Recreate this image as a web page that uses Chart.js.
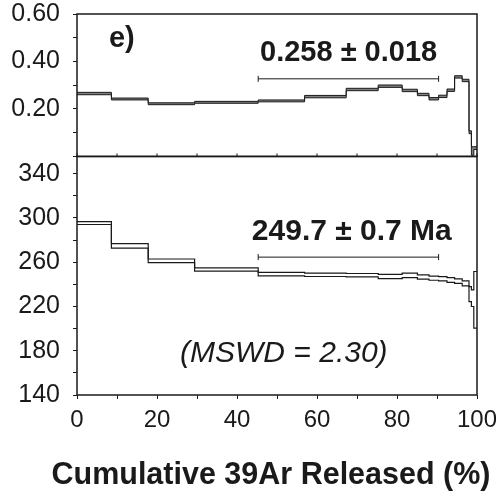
<!DOCTYPE html>
<html>
<head>
<meta charset="utf-8">
<title>Cumulative 39Ar Released</title>
<script src="https://cdn.jsdelivr.net/npm/chart.js@4.4.1/dist/chart.umd.min.js"></script>
<style>
  html, body { margin: 0; padding: 0; background: #fff; }
  #wrap { width: 496px; height: 501px; }
</style>
</head>
<body>
<div id="wrap"><canvas id="spectrum"></canvas></div>
<script>
// step boundaries, cumulative 39Ar released (%)
const stepEdges = [0, 8.6, 17.8, 29.4, 45.3, 56.9, 67.3, 75.3, 81.3, 85.1, 88.0, 90.4, 92.5, 94.4, 96.3, 98.0, 98.6, 99.2, 100];

// upper panel ratio for each step and its error half-width
const ratioValues = [0.265, 0.242, 0.222, 0.228, 0.234, 0.252, 0.282, 0.296, 0.278, 0.261, 0.243, 0.253, 0.279, 0.335, 0.320, 0.102, 0.023, 0.035];
const ratioErrors = [0.005, 0.004, 0.004, 0.004, 0.004, 0.005, 0.005, 0.005, 0.005, 0.005, 0.005, 0.005, 0.005, 0.005, 0.005, 0.006, 0.018, 0.006];

// lower panel apparent age (Ma) for each step and its error half-width
const ageValues = [295.4, 274.8, 261.3, 253.4, 249.3, 248.6, 248.3, 247.1, 248.1, 246.7, 245.6, 245.0, 243.9, 242.9, 240.9, 231.2, 227.5, 226.0];
const ageErrors = [1.3, 2.0, 1.6, 1.5, 1.6, 1.5, 1.5, 1.9, 2.0, 1.9, 1.9, 1.9, 2.2, 2.1, 2.2, 6.8, 7.5, 25.6];

// plateau bars
const plateauRange = [45.3, 90.4];
const ratioPlateauLevel = 0.327;
const agePlateauLevel = 264.6;

// tick labels
const xTickLabels = [0, 20, 40, 60, 80, 100];
const ratioTickLabels = [0.2, 0.4, 0.6];
const ageTickLabels = [140, 180, 220, 260, 300, 340];

const FONT = "'Liberation Sans', Arial, sans-serif";
const INK = '#1a1a1a';

function stepPoints(values, errors, sign) {
    const pts = values.map((v, i) => ({ x: stepEdges[i], y: v + sign * errors[i] }));
    const last = values.length - 1;
    pts.push({ x: stepEdges[last + 1], y: values[last] + sign * errors[last] });
    return pts;
}

function near(list, v) {
    return list.some(t => Math.abs(t - v) < 1e-6);
}

const panelFrame = {
    id: 'panelFrame',
    afterDraw(chart) {
        const ctx = chart.ctx;
        const { left, right } = chart.chartArea;
        const top = chart.scales.yTop;
        const bot = chart.scales.yBot;
        const x = chart.scales.x;
        ctx.save();
        ctx.strokeStyle = INK;
        ctx.lineWidth = 1.5;
        ctx.strokeRect(left, top.top, right - left, top.bottom - top.top);
        ctx.strokeRect(left, bot.top, right - left, bot.bottom - bot.top);
        // little ticks on the divider
        ctx.lineWidth = 1;
        for (let v = 0; v <= 100; v += 10) {
            const px = x.getPixelForValue(v);
            ctx.beginPath();
            ctx.moveTo(px, top.bottom);
            ctx.lineTo(px, top.bottom - 3);
            ctx.stroke();
        }
        // axis title
        ctx.fillStyle = INK;
        ctx.textAlign = 'center';
        ctx.textBaseline = 'middle';
        ctx.font = 'bold 30.5px ' + FONT;
        ctx.fillText('Cumulative 39Ar Released (%)', 271, 476);
        ctx.restore();
    }
};

const panelText = {
    id: 'panelText',
    afterDatasetsDraw(chart) {
        const ctx = chart.ctx;
        const x = chart.scales.x;
        const top = chart.scales.yTop;
        const bot = chart.scales.yBot;
        ctx.save();
        ctx.fillStyle = INK;
        ctx.textAlign = 'center';
        ctx.textBaseline = 'middle';
        ctx.font = 'bold 29px ' + FONT;
        ctx.fillText('e)', x.getPixelForValue(11.2), top.getPixelForValue(0.496));
        ctx.fillText('0.258 ± 0.018', x.getPixelForValue(67.9), top.getPixelForValue(0.437));
        ctx.font = 'bold 30px ' + FONT;
        ctx.fillText('249.7 ± 0.7 Ma', x.getPixelForValue(68.7), bot.getPixelForValue(287.5));
        ctx.font = 'italic 30px ' + FONT;
        ctx.fillText('(MSWD = 2.30)', x.getPixelForValue(51.7), bot.getPixelForValue(177));
        ctx.restore();
    }
};

const lineBase = {
    stepped: 'before',
    pointRadius: 0,
    borderWidth: 1.2,
    borderColor: INK,
    fill: false
};

const barBase = {
    borderColor: INK,
    borderWidth: 1,
    pointStyle: 'line',
    pointRotation: 90,
    pointRadius: 3,
    pointBorderColor: INK,
    pointBorderWidth: 1
};

new Chart(document.getElementById('spectrum'), {
    type: 'line',
    data: {
        datasets: [
            { ...lineBase, yAxisID: 'yTop', data: stepPoints(ratioValues, ratioErrors, 1), borderWidth: 1 },
            { ...lineBase, yAxisID: 'yTop', data: stepPoints(ratioValues, ratioErrors, -1), borderWidth: 1,
              fill: '-1', backgroundColor: '#808080' },
            { ...lineBase, yAxisID: 'yBot', data: stepPoints(ageValues, ageErrors, 1) },
            { ...lineBase, yAxisID: 'yBot', data: stepPoints(ageValues, ageErrors, -1) },
            { ...barBase, yAxisID: 'yTop', data: plateauRange.map(v => ({ x: v, y: ratioPlateauLevel })) },
            { ...barBase, yAxisID: 'yBot', data: plateauRange.map(v => ({ x: v, y: agePlateauLevel })) }
        ]
    },
    options: {
        responsive: true,
        maintainAspectRatio: false,
        animation: false,
        layout: { padding: { top: 14, right: 19, bottom: 0, left: 0 } },
        plugins: {
            legend: { display: false },
            tooltip: { enabled: false }
        },
        scales: {
            x: {
                type: 'linear',
                min: 0,
                max: 100,
                border: { display: false },
                grid: { drawOnChartArea: false, tickLength: 4, color: INK },
                ticks: {
                    stepSize: 10,
                    autoSkip: false,
                    maxRotation: 0,
                    padding: 7,
                    color: INK,
                    font: { family: FONT, size: 24 },
                    callback: v => near(xTickLabels, v) ? String(v) : ''
                },
                afterFit: s => { s.height = 106; s.paddingRight = 0; s.paddingLeft = 0; }
            },
            yBot: {
                type: 'linear',
                position: 'left',
                stack: 'panels',
                stackWeight: 238.3,
                min: 140,
                max: 355.6,
                border: { display: false },
                grid: { drawOnChartArea: false, tickLength: 4, color: INK },
                ticks: {
                    stepSize: 20,
                    includeBounds: false,
                    autoSkip: false,
                    padding: 13,
                    color: INK,
                    font: { family: FONT, size: 25 },
                    callback: v => near(ageTickLabels, v) ? String(v) : ''
                },
                afterFit: s => { s.width = 77; s.paddingTop = 0; s.paddingBottom = 0; }
            },
            yTop: {
                type: 'linear',
                position: 'left',
                stack: 'panels',
                stackWeight: 142.3,
                min: 0,
                max: 0.6,
                border: { display: false },
                grid: { drawOnChartArea: false, tickLength: 4, color: INK },
                ticks: {
                    stepSize: 0.1,
                    autoSkip: false,
                    padding: 13,
                    color: INK,
                    font: { family: FONT, size: 25 },
                    callback: v => near(ratioTickLabels, v) ? v.toFixed(2) : ''
                },
                afterFit: s => { s.width = 77; s.paddingTop = 0; s.paddingBottom = 0; }
            }
        }
    },
    plugins: [panelFrame, panelText]
});
</script>
</body>
</html>
